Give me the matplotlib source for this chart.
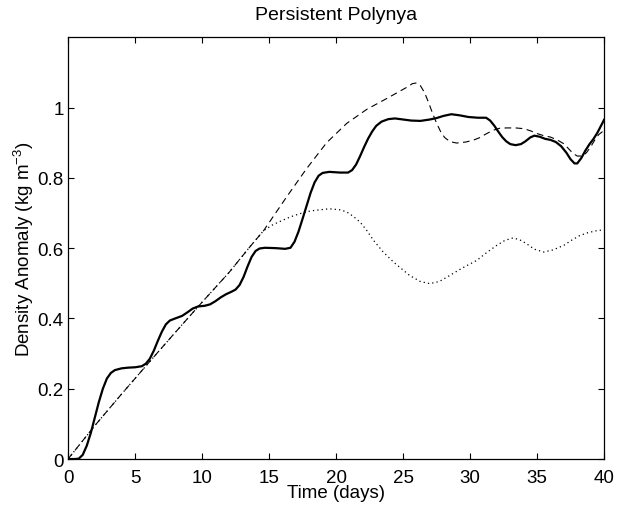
import matplotlib
matplotlib.use("Agg")
import matplotlib.pyplot as plt

# 时间 (days) 与密度异常 (kg m^-3)
t_solid = [0, 0.5, 0.8, 1.1, 1.4, 1.7, 2.0, 2.3, 2.6, 2.9, 3.2, 3.5, 4.0, 4.5, 5.0,
           5.5, 5.8, 6.1, 6.4, 6.7, 7.0, 7.3, 7.6, 8.0, 8.5, 8.9, 9.3, 9.7, 10.2,
           10.6, 11.0, 11.4, 11.8, 12.2, 12.5, 12.8, 13.1, 13.4, 13.7, 14.0, 14.3,
           14.7, 15.5, 16.2, 16.6, 16.9, 17.2, 17.5, 17.8, 18.1, 18.4, 18.7, 19.0,
           19.5, 20.3, 20.9, 21.2, 21.5, 21.8, 22.1, 22.4, 22.7, 23.0, 23.4, 23.9,
           24.4, 25.0, 25.6, 26.3, 27.0, 27.5, 28.0, 28.6, 29.2, 29.9, 30.6, 31.2,
           31.5, 31.8, 32.1, 32.4, 32.7, 33.0, 33.4, 33.8, 34.1, 34.5, 34.8, 35.2,
           35.6, 36.0, 36.4, 36.8, 37.2, 37.5, 37.8, 38.0, 38.3, 38.6, 38.9, 39.2,
           39.5, 39.8, 40.0]
rho_solid = [0, 0, 0.001, 0.012, 0.038, 0.074, 0.118, 0.162, 0.2, 0.229, 0.245,
             0.253, 0.258, 0.26, 0.261, 0.264, 0.271, 0.285, 0.308, 0.336, 0.362,
             0.383, 0.394, 0.40, 0.407, 0.417, 0.428, 0.434, 0.436, 0.44, 0.449,
             0.46, 0.469, 0.476, 0.482, 0.495, 0.518, 0.548, 0.575, 0.592, 0.599,
             0.601, 0.600, 0.598, 0.601, 0.618, 0.647, 0.683, 0.72, 0.757, 0.787,
             0.806, 0.814, 0.817, 0.815, 0.815, 0.822, 0.838, 0.862, 0.888, 0.912,
             0.932, 0.948, 0.96, 0.967, 0.969, 0.966, 0.963, 0.962, 0.966, 0.970,
             0.976, 0.981, 0.978, 0.973, 0.971, 0.971, 0.963, 0.949, 0.932, 0.916,
             0.904, 0.896, 0.893, 0.896, 0.903, 0.915, 0.92, 0.917, 0.911, 0.908,
             0.902, 0.89, 0.871, 0.853, 0.841, 0.841, 0.856, 0.877, 0.895, 0.91,
             0.928, 0.95, 0.965]

t_dashed = [0, 2, 4, 6, 8, 10, 12, 13.6, 14.6, 16.3, 17.8, 19.3, 20.8, 22.3, 23.8,
            25.3, 25.7, 26.0, 26.3, 26.6, 26.9, 27.2, 27.5, 27.8, 28.1, 28.5, 29.0,
            29.7, 30.3, 30.7, 31.2, 31.7, 32.2, 32.7, 33.4, 34.0, 34.5, 35.0, 35.5,
            36.0, 36.5, 37.0, 37.4, 37.7, 38.0, 38.4, 38.7, 39.0, 39.3, 39.6, 40.0]
rho_dashed = [0, 0.095, 0.185, 0.273, 0.36, 0.446, 0.53, 0.605, 0.65, 0.745, 0.826,
              0.9, 0.955, 0.995, 1.026, 1.058, 1.068, 1.07, 1.062, 1.043, 1.015,
              0.984, 0.956, 0.932, 0.915, 0.903, 0.899, 0.902, 0.908, 0.914, 0.925,
              0.935, 0.941, 0.942, 0.942, 0.94, 0.934, 0.926, 0.92, 0.916, 0.908,
              0.897, 0.881, 0.869, 0.862, 0.862, 0.872, 0.888, 0.907, 0.923, 0.935]

t_dotted = [0, 2, 4, 6, 8, 10, 12, 13.6, 14.6, 15.3, 16.0, 16.6, 17.3, 18.1, 19.5,
            20.3, 20.8, 21.3, 21.8, 22.3, 22.8, 23.5, 24.3, 25.5, 26.3, 27.0, 27.7,
            28.3, 29.4, 30.5, 31.3, 32.0, 32.6, 33.2, 33.7, 34.2, 34.8, 35.5, 36.2,
            37.0, 37.6, 38.2, 38.8, 39.5, 40.0]
rho_dotted = [0, 0.095, 0.185, 0.273, 0.36, 0.446, 0.53, 0.605, 0.65, 0.667, 0.679,
              0.689, 0.698, 0.706, 0.712, 0.709, 0.703, 0.69, 0.674, 0.65, 0.622,
              0.59, 0.56, 0.522, 0.505, 0.499, 0.505, 0.518, 0.543, 0.565, 0.589,
              0.608, 0.622, 0.629, 0.624, 0.613, 0.597, 0.589, 0.595, 0.608, 0.623,
              0.636, 0.644, 0.65, 0.652]

x_ticks = [0, 5, 10, 15, 20, 25, 30, 35, 40]
y_ticks = [0, 0.2, 0.4, 0.6, 0.8, 1]
y_tick_labels = ["0", "0.2", "0.4", "0.6", "0.8", "1"]

plt.rcParams["font.family"] = ["Liberation Sans", "DejaVu Sans"]
plt.rcParams["mathtext.default"] = "regular"

fig = plt.figure(figsize=(6.24, 5.10), dpi=100)
ax = fig.add_axes([0.109, 0.098, 0.859, 0.827])

ax.plot(t_dotted, rho_dotted, color="black", linestyle=(0, (1, 2.5)), linewidth=0.9)
ax.plot(t_dashed, rho_dashed, color="black", linestyle=(0, (6, 4)), linewidth=0.8)
ax.plot(t_solid, rho_solid, color="black", linestyle="-", linewidth=1.6)

ax.set_xlim(0, 40)
ax.set_ylim(0, 1.2)
ax.set_xticks(x_ticks)
ax.set_yticks(y_ticks)
ax.set_yticklabels(y_tick_labels)
ax.tick_params(direction="in", length=4, width=0.8, top=True, right=True,
               labelsize=13.5)
ax.tick_params(axis="x", pad=7)
ax.tick_params(axis="y", pad=3)
for s in ax.spines.values():
    s.set_linewidth(0.9)

ax.set_title("Persistent Polynya", fontsize=14, pad=13)
ax.set_xlabel("Time (days)", fontsize=13.5, labelpad=-1)
ax.set_ylabel("Density Anomaly (kg m$^{-3}$)", fontsize=13.5, labelpad=1)

fig.savefig("out.png", dpi=100)
